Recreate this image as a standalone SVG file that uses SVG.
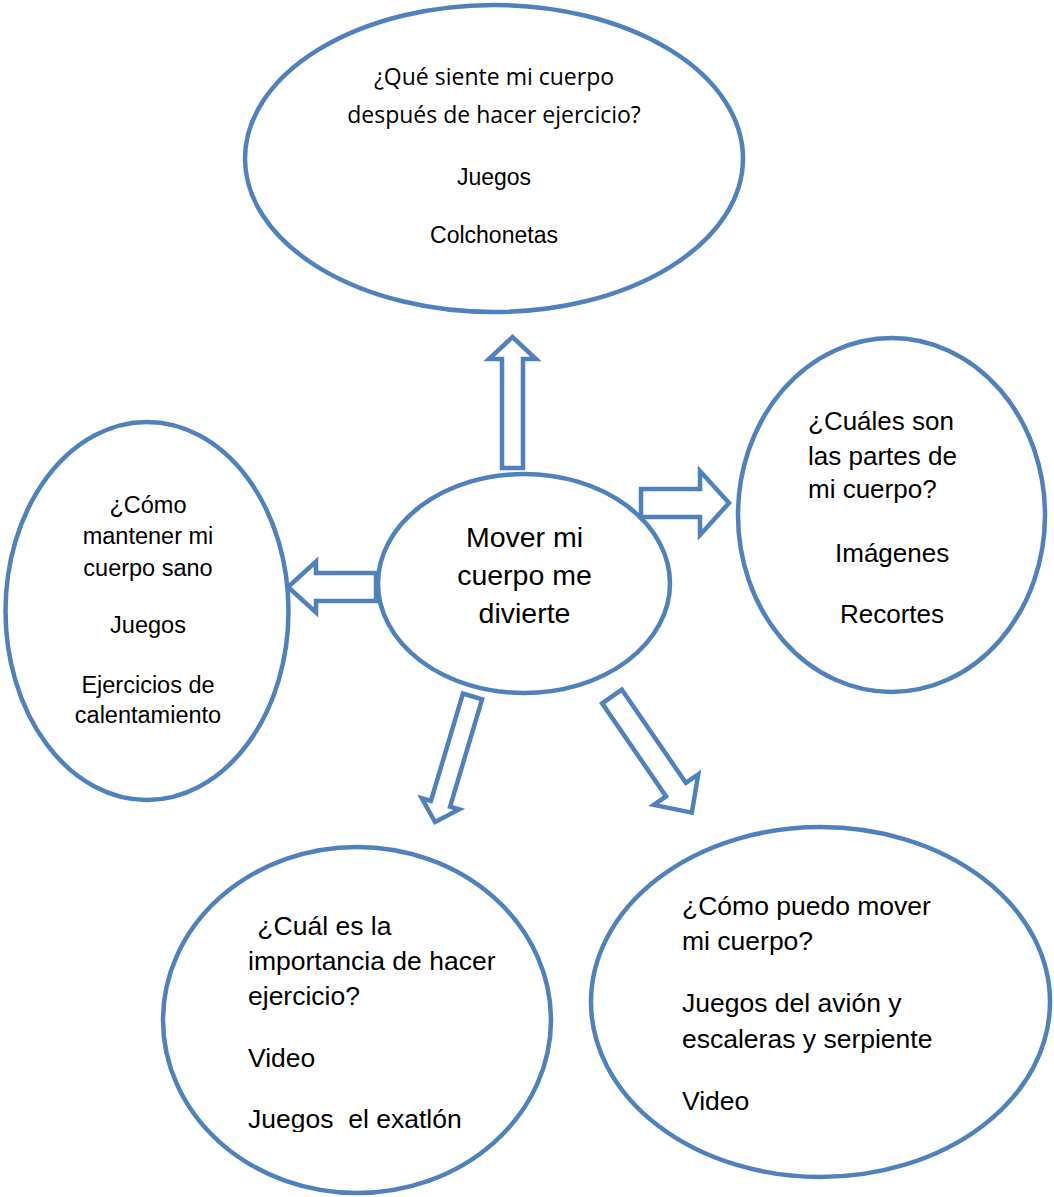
<svg xmlns="http://www.w3.org/2000/svg" width="1054" height="1197" viewBox="0 0 1054 1197">
<defs>
<style>
.node{fill:#ffffff;stroke:#4F81BD;stroke-width:4.5}
.arrow{fill:#ffffff;stroke:#4F81BD;stroke-width:4.5;stroke-linejoin:miter}
.t{font-family:"Liberation Sans",Arial,sans-serif;fill:#000000}
.c{font-family:"Open Sans","Noto Sans",sans-serif;fill:#000000}
.mid{text-anchor:middle}
</style>
<clipPath id="clipBL"><rect x="160" y="820" width="400" height="312"/></clipPath>
</defs>
<rect width="1054" height="1197" fill="#ffffff"/>
<g id="node-top">
<ellipse class="node" cx="494" cy="158.5" rx="249" ry="153.5"/>
<text class="c mid" font-size="23" x="494" y="85">¿Qué siente mi cuerpo</text>
<text class="c mid" font-size="23" x="494" y="123">después de hacer ejercicio?</text>
<text class="t mid" font-size="23" x="494" y="185">Juegos</text>
<text class="t mid" font-size="23" x="494" y="243">Colchonetas</text>
</g>
<g id="node-center">
<ellipse class="node" cx="524" cy="583.5" rx="146" ry="109.5"/>
<text class="t mid" font-size="28.5" x="524.5" y="547">Mover mi</text>
<text class="t mid" font-size="28.5" x="524.5" y="585">cuerpo me</text>
<text class="t mid" font-size="28.5" x="524.5" y="623">divierte</text>
</g>
<g id="node-right">
<ellipse class="node" cx="891.5" cy="515" rx="153.5" ry="177"/>
<text class="t" font-size="26" x="808" y="430">¿Cuáles son</text>
<text class="t" font-size="26" x="808" y="465">las partes de</text>
<text class="t" font-size="26" x="808" y="498">mi cuerpo?</text>
<text class="t" font-size="26" x="835" y="562">Imágenes</text>
<text class="t" font-size="26" x="840" y="623">Recortes</text>
</g>
<g id="node-left">
<ellipse class="node" cx="147" cy="611" rx="141.5" ry="189"/>
<text class="t mid" font-size="23.5" x="148" y="513">¿Cómo</text>
<text class="t mid" font-size="23.5" x="148" y="544">mantener mi</text>
<text class="t mid" font-size="23.5" x="148" y="576">cuerpo sano</text>
<text class="t mid" font-size="23.5" x="148" y="633">Juegos</text>
<text class="t mid" font-size="23.5" x="148" y="693">Ejercicios de</text>
<text class="t mid" font-size="23.5" x="148" y="723">calentamiento</text>
</g>
<g id="node-bottom-left">
<ellipse class="node" cx="357" cy="1020" rx="194" ry="173"/>
<text class="t" font-size="26.5" x="250" y="935" xml:space="preserve"> ¿Cuál es la</text>
<text class="t" font-size="26.5" x="248" y="970">importancia de hacer</text>
<text class="t" font-size="26.5" x="248" y="1005">ejercicio?</text>
<text class="t" font-size="26.5" x="248" y="1067">Video</text>
<text class="t" font-size="26.5" x="248" y="1128" clip-path="url(#clipBL)" xml:space="preserve">Juegos  el exatlón</text>
</g>
<g id="node-bottom-right">
<ellipse class="node" cx="820.5" cy="1002" rx="229.5" ry="175"/>
<text class="t" font-size="26.5" x="682" y="915">¿Cómo puedo mover</text>
<text class="t" font-size="26.5" x="682" y="950">mi cuerpo?</text>
<text class="t" font-size="26.5" x="682" y="1012">Juegos del avión y</text>
<text class="t" font-size="26.5" x="682" y="1048">escaleras y serpiente</text>
<text class="t" font-size="26.5" x="682" y="1110">Video</text>
</g>
<g id="connectors">
<polygon class="arrow" transform="translate(512.5,468) rotate(-90)" points="0,-10.5 109,-10.5 109,-23.5 131,0 109,23.5 109,10.5 0,10.5"/>
<polygon class="arrow" transform="translate(641,503)" points="0,-14 59,-14 59,-32 88,0 59,32 59,14 0,14"/>
<polygon class="arrow" transform="translate(376,587) rotate(180)" points="0,-14 60,-14 60,-25.5 88,0 60,25.5 60,14 0,14"/>
<polygon class="arrow" transform="translate(472.5,696.5) rotate(106.6)" points="0,-10 112,-10 112,-19.5 131,0 112,19.5 112,10 0,10"/>
<polygon class="arrow" transform="translate(612,696.5) rotate(55.5)" points="0,-12 113,-12 113,-27 141,0 113,27 113,12 0,12"/>
</g>
</svg>
